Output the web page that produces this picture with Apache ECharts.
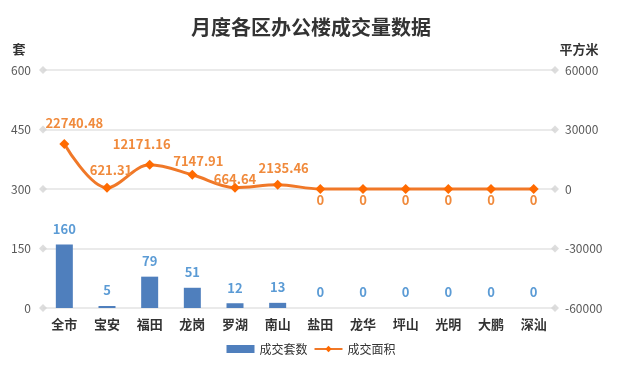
<!DOCTYPE html>
<html><head><meta charset="utf-8">
<script src="https://cdn.jsdelivr.net/npm/echarts@6/dist/echarts.min.js"></script>
<style>html,body{margin:0;padding:0;background:#fff}#c{width:622px;height:366px}</style>
</head><body><div id="c"></div>
<script>
const categories = ['全市','宝安','福田','龙岗','罗湖','南山','盐田','龙华','坪山','光明','大鹏','深汕'];
const unitsSold = [160,5,79,51,12,13,0,0,0,0,0,0];
const areaSold = [22740.48,621.31,12171.16,7147.91,664.64,2135.46,0,0,0,0,0,0];
const leftTicks = [0,150,300,450,600];
const rightTicks = [-60000,-30000,0,30000,60000];

// label placement tweaks (style only, mimicking the original's label layout)
const areaLabelNudge = [[10,0],[4,3],[-8,0],[6,7],[0,12],[6,4]];

const FONT = '"Noto Sans CJK SC","Noto Sans",sans-serif';
const chart = echarts.init(document.getElementById('c'));
const diamonds = [];
leftTicks.forEach(t => { diamonds.push([0, t]); diamonds.push([1, t]); });

chart.setOption({
  backgroundColor: '#fff',
  textStyle: { fontFamily: FONT },
  title: {
    text: '月度各区办公楼成交量数据', left: 'center', top: 12,
    textStyle: { fontSize: 20, fontWeight: 'bold', color: '#333', fontFamily: FONT }
  },
  legend: {
    bottom: 6, left: 'center', itemGap: 6,
    data: [
      { name: '成交套数', icon: 'rect' },
      { name: '成交面积' }
    ],
    itemWidth: 28, itemHeight: 8,
    textStyle: { fontSize: 12, color: '#333', fontFamily: FONT }
  },
  grid: { left: 43, right: 67, top: 70, bottom: 58 },
  xAxis: [{
    type: 'category', data: categories,
    axisLine: { show: false }, axisTick: { show: false },
    axisLabel: { color: '#333', fontSize: 13, fontWeight: 'bold', margin: 10, fontFamily: FONT }
  }, {
    type: 'value', min: 0, max: 1, show: false
  }],
  yAxis: [{
    type: 'value', min: leftTicks[0], max: leftTicks[leftTicks.length - 1], interval: 150,
    name: '套', nameLocation: 'end', nameGap: 14,
    nameTextStyle: { color: '#333', fontSize: 13, fontWeight: 'bold', align: 'center', padding: [0, 48, 0, 0] },
    axisLine: { show: false }, axisTick: { show: false },
    axisLabel: { color: '#595959', fontSize: 12, margin: 12 },
    splitLine: { lineStyle: { color: '#e3e3e3', width: 1.5 } }
  }, {
    type: 'value', min: rightTicks[0], max: rightTicks[rightTicks.length - 1], interval: 30000,
    name: '平方米', nameLocation: 'end', nameGap: 14,
    nameTextStyle: { color: '#333', fontSize: 13, fontWeight: 'bold', align: 'center', padding: [0, 0, 0, 48] },
    axisLine: { show: false }, axisTick: { show: false },
    axisLabel: { color: '#595959', fontSize: 12, margin: 10, formatter: v => String(v) },
    splitLine: { show: false }
  }],
  series: [{
    name: '成交套数', type: 'bar', data: unitsSold, barWidth: 17,
    itemStyle: { color: '#4f7fbd' },
    label: { show: true, position: 'top', distance: 9, color: '#5b9bd5', fontSize: 13, fontWeight: 'bold' },
    z: 2
  }, {
    name: '成交面积', type: 'line', yAxisIndex: 1, smooth: 0.35,
    data: areaSold.map((v, i) => ({
      value: v,
      label: v === 0
        ? { position: 'bottom', distance: 0 }
        : { position: 'top', offset: areaLabelNudge[i] || [0, 0] }
    })),
    symbol: 'diamond', symbolSize: 10,
    lineStyle: { color: '#f07828', width: 3 },
    itemStyle: { color: '#ff6a00' },
    label: { show: true, distance: 9, color: '#f08a3c', fontSize: 13, fontWeight: 'bold' },
    z: 4
  }, {
    name: 'gridEnds', type: 'scatter', xAxisIndex: 1, yAxisIndex: 0,
    data: diamonds, symbol: 'diamond', symbolSize: 8,
    itemStyle: { color: '#d4d4d4' }, silent: true, z: 1
  }]
});
</script></body></html>
